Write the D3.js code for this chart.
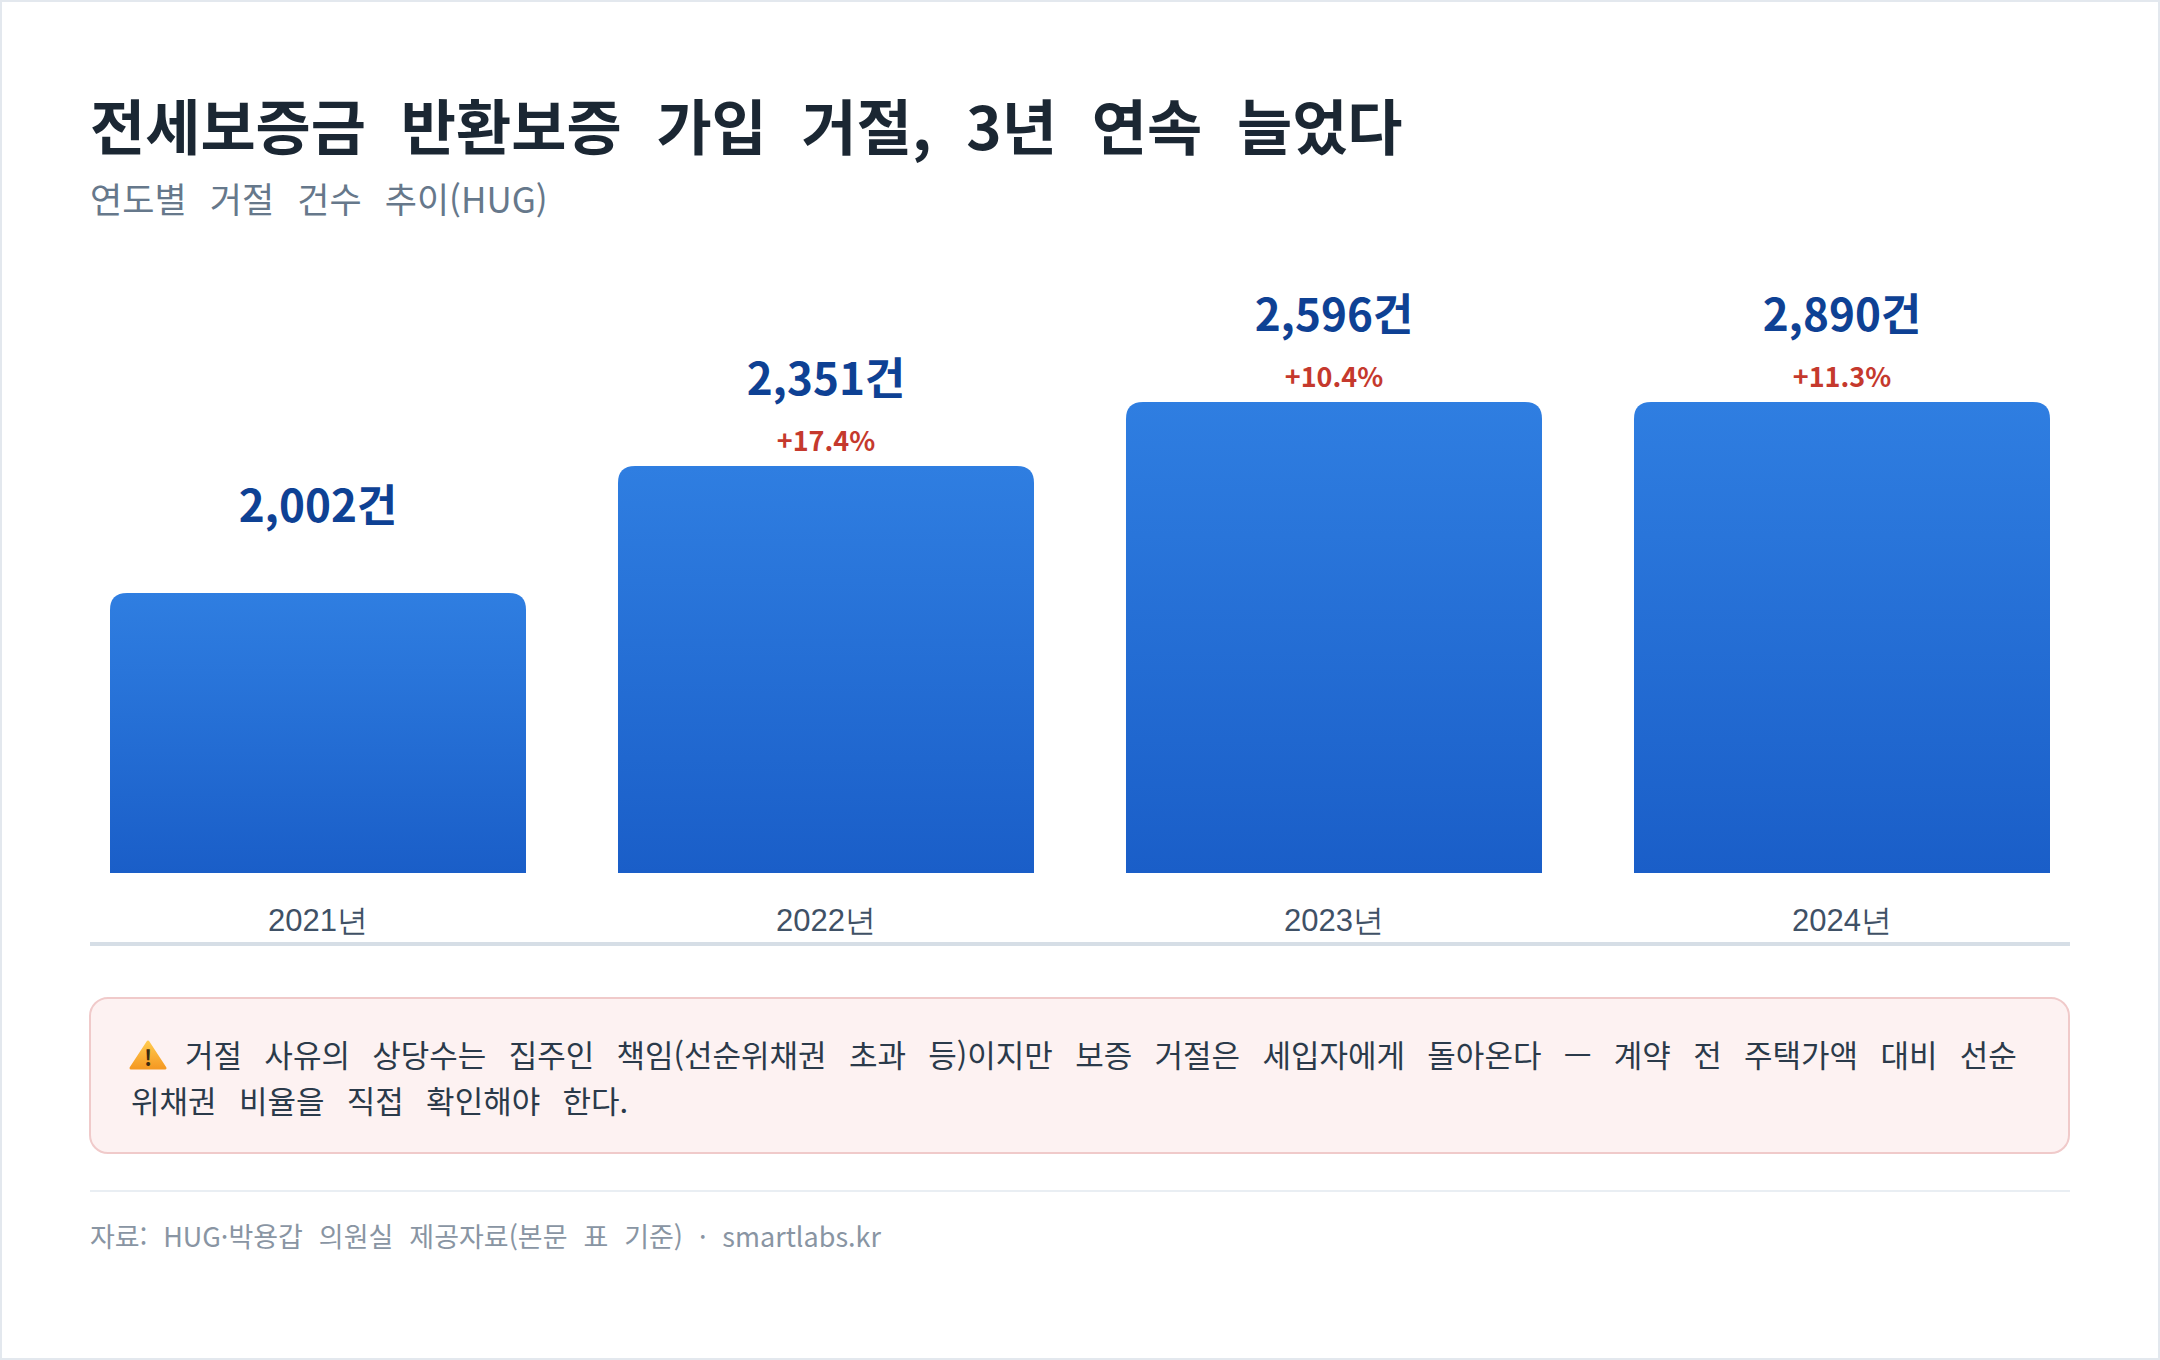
<!DOCTYPE html>
<html lang="ko">
<head>
<meta charset="utf-8">
<script src="https://cdn.jsdelivr.net/npm/d3@7"></script>
<style>
  html, body { margin: 0; padding: 0; background: #fff; }
  svg { display: block; font-family: "Noto Sans CJK KR", "Noto Sans", sans-serif; }
</style>
</head>
<body>
<div id="chart"></div>
<script>
// data
const years = ["2021년", "2022년", "2023년", "2024년"];
const counts = [2002, 2351, 2596, 2890];
const changes = ["", "+17.4%", "+10.4%", "+11.3%"];

const title = "전세보증금 반환보증 가입 거절, 3년 연속 늘었다";
const subtitle = "연도별 거절 건수 추이(HUG)";
const noteLines = [
  "거절 사유의 상당수는 집주인 책임(선순위채권 초과 등)이지만 보증 거절은 세입자에게 돌아온다 — 계약 전 주택가액 대비 선순",
  "위채권 비율을 직접 확인해야 한다."
];
const source = "자료: HUG·박용갑 의원실 제공자료(본문 표 기준) · smartlabs.kr";

////// layout //////
const width = 2160;
const height = 1360;
const left = 90, right = 2070;
const baseY = 873;     // bar bottom
const topY = 402;      // tallest bar top

const svg = d3.select("#chart")
  .append("svg")
  .attr("width", width)
  .attr("height", height)
  .attr("viewBox", `0 0 ${width} ${height}`);

// card border
svg.append("rect")
  .attr("x", 1).attr("y", 1)
  .attr("width", width - 2).attr("height", height - 2)
  .attr("fill", "#fff")
  .attr("stroke", "#e3e8ee")
  .attr("stroke-width", 2);

// title block
svg.append("text")
  .attr("x", left).attr("y", 150)
  .attr("font-size", 60)
  .attr("font-weight", 700)
  .attr("word-spacing", "0.3em")
  .attr("fill", "#1b2733")
  .text(title);

svg.append("text")
  .attr("x", left).attr("y", 213)
  .attr("font-size", 35)
  .attr("word-spacing", "0.38em")
  .attr("fill", "#66788b")
  .text(subtitle);

// scales
const x = d3.scaleBand()
  .domain(years)
  .range([110, 2050])
  .paddingInner(0.1811)
  .paddingOuter(0);

// bar heights saturate at the top of the plot area
const y = d3.scaleLinear()
  .domain([1233, 2527])
  .range([baseY, topY])
  .clamp(true);

const defs = svg.append("defs");
const grad = defs.append("linearGradient")
  .attr("id", "barGrad")
  .attr("x1", 0).attr("y1", 0)
  .attr("x2", 0).attr("y2", 1);
grad.append("stop").attr("offset", "0%").attr("stop-color", "#2f7ee1");
grad.append("stop").attr("offset", "100%").attr("stop-color", "#1a5ec8");

function topRounded(x0, y0, w, h, r) {
  return `M${x0},${y0 + h}V${y0 + r}Q${x0},${y0} ${x0 + r},${y0}` +
    `H${x0 + w - r}Q${x0 + w},${y0} ${x0 + w},${y0 + r}V${y0 + h}Z`;
}

const rows = years.map((yr, i) => ({ year: yr, count: counts[i], change: changes[i] }));

const g = svg.append("g");

g.selectAll("path.bar")
  .data(rows)
  .enter().append("path")
  .attr("class", "bar")
  .attr("fill", "url(#barGrad)")
  .attr("d", d => topRounded(x(d.year), y(d.count), x.bandwidth(), baseY - y(d.count), 17));

// value labels
g.selectAll("text.value")
  .data(rows)
  .enter().append("text")
  .attr("class", "value")
  .attr("x", d => x(d.year) + x.bandwidth() / 2)
  .attr("y", d => y(d.count) - 71)
  .attr("text-anchor", "middle")
  .attr("font-size", 44)
  .attr("font-weight", 700)
  .attr("fill", "#0e4194")
  .text(d => d3.format(",")(d.count) + "건");

// change labels
g.selectAll("text.change")
  .data(rows.filter(d => d.change))
  .enter().append("text")
  .attr("class", "change")
  .attr("x", d => x(d.year) + x.bandwidth() / 2)
  .attr("y", d => y(d.count) - 15)
  .attr("text-anchor", "middle")
  .attr("font-size", 27)
  .attr("font-weight", 700)
  .attr("fill", "#c5392d")
  .text(d => d.change);

// x axis
const xAxis = svg.append("g")
  .attr("transform", `translate(0,${baseY})`)
  .call(d3.axisBottom(x).tickSize(0).tickPadding(0));
xAxis.select(".domain").remove();
xAxis.selectAll("text")
  .attr("y", 58)
  .attr("dy", null)
  .attr("font-family", null)
  .attr("font-size", 31)
  .attr("fill", "#3f5166");

svg.append("line")
  .attr("x1", left).attr("x2", right)
  .attr("y1", 944).attr("y2", 944)
  .attr("stroke", "#d6dee6")
  .attr("stroke-width", 4);

// note box
svg.append("rect")
  .attr("x", left).attr("y", 998)
  .attr("width", right - left - 1).attr("height", 155)
  .attr("rx", 18)
  .attr("fill", "#fdf2f2")
  .attr("stroke", "#f0caca")
  .attr("stroke-width", 2);

// warning icon
const icon = svg.append("g").attr("transform", "translate(148,1055)");
const ig = defs.append("linearGradient")
  .attr("id", "iconGrad")
  .attr("x1", 0).attr("y1", 0).attr("x2", 0).attr("y2", 1);
ig.append("stop").attr("offset", "0%").attr("stop-color", "#ffc94d");
ig.append("stop").attr("offset", "100%").attr("stop-color", "#f59a23");
icon.append("path")
  .attr("d", "M0,-13 L17,13 L-17,13 Z")
  .attr("fill", "url(#iconGrad)")
  .attr("stroke", "url(#iconGrad)")
  .attr("stroke-width", 3)
  .attr("stroke-linejoin", "round");
icon.append("text")
  .attr("y", 11)
  .attr("text-anchor", "middle")
  .attr("font-size", 22)
  .attr("font-weight", 700)
  .attr("fill", "#3a2a10")
  .text("!");

const note = svg.append("text")
  .attr("font-size", 31)
  .attr("word-spacing", "0.44em")
  .attr("fill", "#2b3a4a");
note.selectAll("tspan")
  .data(noteLines)
  .enter().append("tspan")
  .attr("x", (d, i) => i === 0 ? 185 : 131)
  .attr("y", (d, i) => 1067 + i * 46)
  .text(d => d);

// footer
svg.append("line")
  .attr("x1", left).attr("x2", right)
  .attr("y1", 1191).attr("y2", 1191)
  .attr("stroke", "#e9eef3")
  .attr("stroke-width", 2);

svg.append("text")
  .attr("x", left).attr("y", 1247)
  .attr("font-size", 27)
  .attr("word-spacing", "0.31em")
  .attr("fill", "#8995a3")
  .text(source);
</script>
</body>
</html>
